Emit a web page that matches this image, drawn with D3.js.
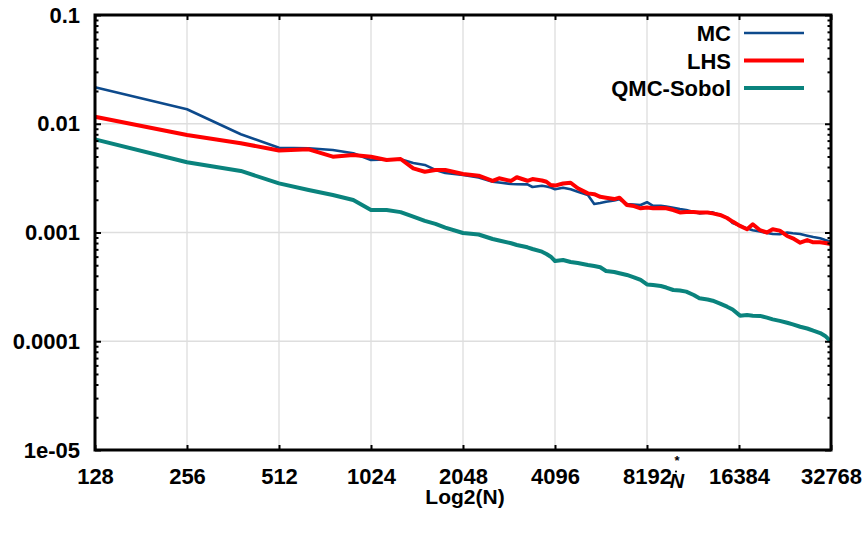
<!DOCTYPE html>
<html>
<head>
<meta charset="utf-8">
<script src="https://cdn.jsdelivr.net/npm/d3@7"></script>
<style>
  html, body { margin: 0; padding: 0; background: #ffffff; }
  svg { display: block; }
  text { font-family: "Liberation Sans", Arial, sans-serif; font-weight: bold; fill: #000; }
</style>
</head>
<body>
<svg id="chart" width="863" height="533"></svg>
<script>
// Sample sizes N (multiples of 128)
const sampleSizes = [
  128, 256, 384, 512, 640, 768, 896, 1024,
  1152, 1280, 1408, 1536, 1664, 1792, 2048,
  2304, 2560, 2688, 2944, 3072, 3328, 3456, 3712, 3840, 3968,
  4096, 4352, 4608, 4864, 5248, 5504, 5760, 6016, 6400, 6656,
  7040, 7424, 7808, 8192, 8576, 9088, 9472, 9984, 10496, 11008,
  11648, 12160, 12928, 13440, 14208, 14976, 15616, 16512, 17408, 18176,
  19200, 20224, 21120, 22272, 23552, 24576, 25984, 27392, 28672, 30208,
  31360, 32768
];

// Estimation error for plain Monte Carlo
const errorMC = [
  0.02163, 0.01358, 0.0080, 0.00602, 0.00595, 0.00574, 0.00535, 0.00464,
  0.00469, 0.00471, 0.00436, 0.00418, 0.00376, 0.00352, 0.00338,
  0.00320, 0.00293, 0.00288, 0.00279, 0.00278, 0.00277, 0.00262, 0.00269, 0.00265, 0.00259,
  0.00250, 0.00258, 0.00250, 0.00237, 0.00221, 0.00183, 0.00187, 0.00192, 0.00197, 0.00202,
  0.00183, 0.00181, 0.00179, 0.00190, 0.00176, 0.00176, 0.00173, 0.00169, 0.00164, 0.00161,
  0.00154, 0.00150, 0.00153, 0.00153, 0.00145, 0.00137, 0.00122, 0.00115, 0.00109, 0.00105,
  0.00102, 0.000990, 0.000969, 0.000963, 0.00100, 0.000983, 0.000969, 0.000935, 0.000909, 0.000884,
  0.000853, 0.000823
];

// Estimation error for Latin hypercube sampling
const errorLHS = [
  0.01161, 0.00788, 0.00661, 0.00568, 0.00582, 0.00498, 0.00516, 0.00498,
  0.00464, 0.00474, 0.00389, 0.00362, 0.00376, 0.00376, 0.00345,
  0.00333, 0.00298, 0.00315, 0.00298, 0.00322, 0.00299, 0.00310, 0.00301, 0.00293, 0.00273,
  0.00270, 0.00282, 0.00287, 0.00255, 0.00229, 0.00225, 0.00213, 0.00209, 0.00203, 0.00209,
  0.00179, 0.00175, 0.00167, 0.00170, 0.00167, 0.00168, 0.00167, 0.00161, 0.00153, 0.00154,
  0.00154, 0.00153, 0.00153, 0.00150, 0.00145, 0.00136, 0.00126, 0.00115, 0.00107, 0.00119,
  0.00105, 0.00100, 0.00107, 0.00104, 0.000929, 0.000884, 0.000806, 0.000853, 0.000813, 0.000813,
  0.000801, 0.000784
];

// Estimation error for quasi Monte Carlo (Sobol sequence)
const errorQMC = [
  0.00719, 0.00442, 0.00368, 0.00283, 0.00246, 0.00221, 0.00199, 0.00161,
  0.00161, 0.00154, 0.00140, 0.00128, 0.00120, 0.00111, 0.000990,
  0.000959, 0.000871, 0.000844, 0.000796, 0.000768, 0.000731, 0.000705, 0.000666, 0.000634, 0.000599,
  0.000547, 0.000559, 0.000535, 0.000524, 0.000503, 0.000492, 0.000479, 0.000443, 0.000433, 0.000422,
  0.000407, 0.000387, 0.000366, 0.000333, 0.000329, 0.000322, 0.000312, 0.000296, 0.000293, 0.000286,
  0.000266, 0.000248, 0.000242, 0.000236, 0.000222, 0.000208, 0.000196, 0.000172, 0.000174, 0.000172,
  0.000171, 0.000165, 0.000159, 0.000154, 0.000148, 0.000143, 0.000136, 0.000131, 0.000125, 0.000119,
  0.000112, 0.0000991
];

const seriesNames = ["MC", "LHS", "QMC-Sobol"];
const seriesColors = ["#0d4a8c", "#ff0000", "#0a837d"];
const seriesWidths = [2.6, 4, 4];

const xTickValues = [128, 256, 512, 1024, 2048, 4096, 8192, 16384, 32768];
const xTickLabels = ["128", "256", "512", "1024", "2048", "4096", "8192", "16384", "32768"];
const yTickValues = [0.1, 0.01, 0.001, 0.0001, 0.00001];
const yTickLabels = ["0.1", "0.01", "0.001", "0.0001", "1e-05"];
const xAxisTitle = "Log2(N)";

const svg = d3.select("#chart");
const plot = { left: 95, right: 831, top: 15, bottom: 450 };

const x = d3.scaleLog().base(2).domain([128, 32768]).range([plot.left, plot.right]);
const y = d3.scaleLog().domain([1e-5, 0.1]).range([plot.bottom, plot.top]);

// minor decade ticks (2..9 within each decade)
const yMinor = y.ticks().filter(v => !yTickValues.some(m => Math.abs(m - v) / m < 1e-9));

// grid lines
const grid = svg.append("g").attr("stroke", "#dedede").attr("stroke-width", 1.3);
grid.selectAll("line.gx").data(xTickValues.slice(1, -1)).join("line")
  .attr("x1", d => x(d)).attr("x2", d => x(d))
  .attr("y1", plot.top).attr("y2", plot.bottom);
grid.selectAll("line.gy").data(yTickValues.slice(1, -1)).join("line")
  .attr("x1", plot.left).attr("x2", plot.right)
  .attr("y1", d => y(d)).attr("y2", d => y(d));

// data lines
const series = [errorMC, errorLHS, errorQMC];
const line = d3.line().x(d => x(d[0])).y(d => y(d[1]));
series.forEach((vals, i) => {
  svg.append("path")
    .datum(sampleSizes.map((n, j) => [n, vals[j]]))
    .attr("fill", "none")
    .attr("stroke", seriesColors[i])
    .attr("stroke-width", seriesWidths[i])
    .attr("stroke-linejoin", "round")
    .attr("stroke-linecap", "butt")
    .attr("d", line);
});

// axes
const labelFont = 22;
const xFmt = d => xTickLabels[xTickValues.indexOf(d)];
const yFmt = d => yTickLabels[yTickValues.indexOf(d)];

const xBottom = svg.append("g").attr("transform", `translate(0,${plot.bottom})`)
  .call(d3.axisBottom(x).tickValues(xTickValues).tickFormat(xFmt).tickSizeInner(-5).tickSizeOuter(0).tickPadding(18));
const xTop = svg.append("g").attr("transform", `translate(0,${plot.top})`)
  .call(d3.axisTop(x).tickValues(xTickValues).tickFormat("").tickSizeInner(-5).tickSizeOuter(0));
const yLeft = svg.append("g").attr("transform", `translate(${plot.left},0)`)
  .call(d3.axisLeft(y).tickValues(yTickValues).tickFormat(yFmt).tickSizeInner(-6).tickSizeOuter(0).tickPadding(15));
const yLeftMinor = svg.append("g").attr("transform", `translate(${plot.left},0)`)
  .call(d3.axisLeft(y).tickValues(yMinor).tickFormat("").tickSizeInner(-3.5).tickSizeOuter(0));
const yRight = svg.append("g").attr("transform", `translate(${plot.right},0)`)
  .call(d3.axisRight(y).tickValues(yTickValues).tickFormat("").tickSizeInner(-6).tickSizeOuter(0));
const yRightMinor = svg.append("g").attr("transform", `translate(${plot.right},0)`)
  .call(d3.axisRight(y).tickValues(yMinor).tickFormat("").tickSizeInner(-3.5).tickSizeOuter(0));

[xBottom, xTop, yLeft, yLeftMinor, yRight, yRightMinor].forEach(g => {
  g.select(".domain").remove();
  g.selectAll(".tick line").attr("stroke", "#000").attr("stroke-width", 2);
  g.selectAll("text")
    .attr("font-family", "Liberation Sans, Arial, sans-serif")
    .attr("font-weight", "bold")
    .attr("font-size", labelFont)
    .attr("fill", "#000");
});

// frame
svg.append("rect")
  .attr("x", plot.left).attr("y", plot.top)
  .attr("width", plot.right - plot.left).attr("height", plot.bottom - plot.top)
  .attr("fill", "none").attr("stroke", "#000").attr("stroke-width", 3);

// axis title
svg.append("text")
  .attr("x", (plot.left + plot.right) / 2 + 2).attr("y", 504)
  .attr("text-anchor", "middle").attr("font-size", 21)
  .text(xAxisTitle);

// N* marker below the 8192 tick
const nStarX = x(8192) + 30;
const nStar = svg.append("g").attr("transform", `translate(${nStarX},0)`);
nStar.append("text").attr("x", 0).attr("y", 465).attr("text-anchor", "middle")
  .attr("font-family", "DejaVu Sans, sans-serif").attr("font-weight", "normal")
  .attr("font-size", 13).attr("fill", "#333").text("*");
nStar.append("circle").attr("cx", -1).attr("cy", 471.5).attr("r", 1.1).attr("fill", "#000");
nStar.append("text").attr("x", 0).attr("y", 487.5).attr("text-anchor", "middle")
  .attr("font-family", "Liberation Serif, serif").attr("font-style", "italic").attr("font-weight", "normal")
  .attr("font-size", 20).text("N");

// legend
const legend = svg.append("g");
seriesNames.forEach((name, i) => {
  const ly = 33 + i * 27.5;
  legend.append("text")
    .attr("x", 731).attr("y", ly + 8)
    .attr("text-anchor", "end").attr("font-size", 22)
    .text(name);
  legend.append("line")
    .attr("x1", 744).attr("x2", 804).attr("y1", ly).attr("y2", ly)
    .attr("stroke", seriesColors[i]).attr("stroke-width", seriesWidths[i]);
});
</script>
</body>
</html>
